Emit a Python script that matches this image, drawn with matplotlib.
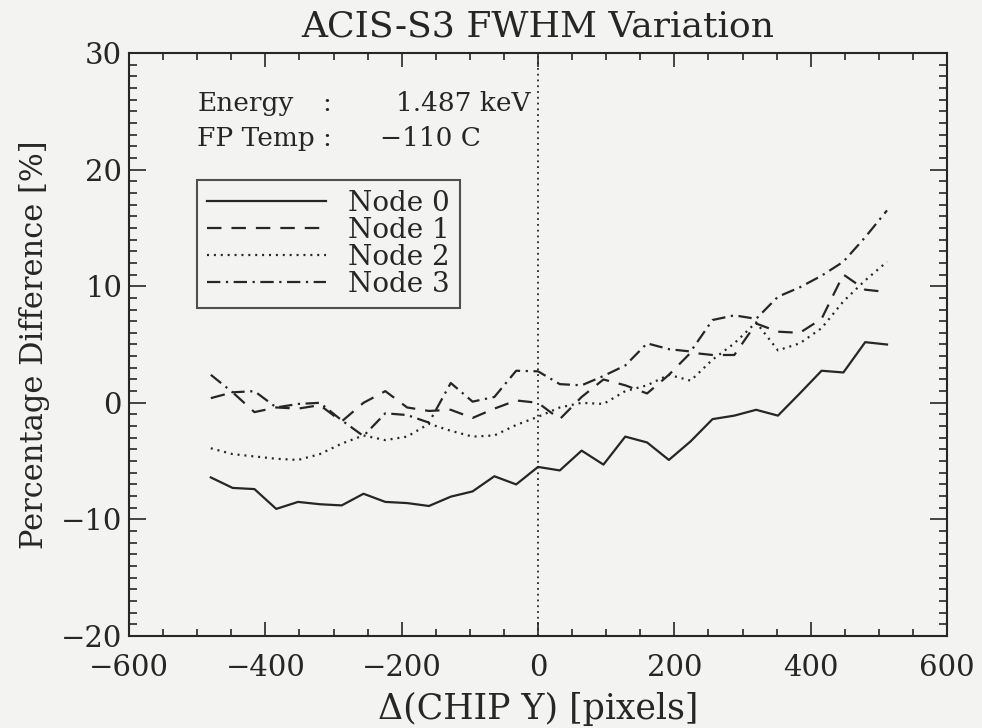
import matplotlib
matplotlib.use("Agg")
import matplotlib.pyplot as plt
from matplotlib.ticker import MultipleLocator

# ---- data ----
chip_y = [-480, -448, -416, -384, -352, -320, -288, -256, -224, -192, -160, -128,
          -96, -64, -32, 0, 32, 64, 96, 128, 160, 192, 224, 256, 288, 320, 352,
          384, 416, 448, 480, 512]
node0 = [-6.4, -7.3, -7.4, -9.1, -8.5, -8.7, -8.8, -7.8, -8.5, -8.6, -8.85, -8.05,
         -7.6, -6.3, -7.0, -5.5, -5.8, -4.1, -5.3, -2.9, -3.4, -4.9, -3.3, -1.4,
         -1.1, -0.6, -1.1, 0.8, 2.75, 2.6, 5.2, 5.0]
node1 = [0.4, 0.9, -0.8, -0.4, -0.5, -0.2, -1.6, 0.0, 1.0, -0.4, -0.7, -0.6,
         -1.3, -0.5, 0.2, 0.0, -1.4, 0.5, 2.0, 1.5, 0.8, 2.4, 4.3, 4.1,
         4.1, 6.8, 6.1, 6.0, 7.2, 11.0, 9.7, 9.5]
node2 = [-3.9, -4.4, -4.6, -4.8, -4.9, -4.4, -3.5, -2.8, -3.2, -2.9, -1.8, -2.4,
         -2.9, -2.8, -1.9, -1.2, -0.4, 0.0, -0.1, 1.0, 1.5, 2.4, 1.9, 3.7,
         5.1, 6.9, 4.5, 5.1, 6.4, 8.7, 10.5, 12.1]
node3 = [2.4, 0.9, 1.0, -0.4, -0.1, 0.0, -1.5, -2.85, -0.9, -1.05, -1.7, 1.7,
         0.1, 0.5, 2.75, 2.7, 1.6, 1.5, 2.3, 3.2, 5.1, 4.6, 4.4, 7.1,
         7.5, 7.2, 9.1, 9.9, 10.9, 12.1, 14.2, 16.5]
labels = ["Node 0", "Node 1", "Node 2", "Node 3"]

title = "ACIS-S3 FWHM Variation"
xlabel = "Δ(CHIP Y) [pixels]"
ylabel = "Percentage Difference [%]"

# ---- style ----
plt.rcParams['font.family'] = ['DejaVu Serif']
ink = '#262626'
bg = '#f3f3f1'

fig = plt.figure(figsize=(9.82, 7.28), dpi=100, facecolor=bg)
ax = fig.add_axes([129/982, 1-636/728, (947-129)/982, (636-53)/728])
ax.set_facecolor(bg)

lw = 1.6
ax.plot(chip_y, node0, color=ink, lw=lw, ls='-', label=labels[0])
ax.plot(chip_y, node1, color=ink, lw=lw, ls=(0, (6.5, 4.5)), label=labels[1])
ax.plot(chip_y, node2, color=ink, lw=lw, ls=(0, (0.9, 2.2)), label=labels[2])
ax.plot(chip_y, node3, color=ink, lw=lw, ls=(0, (6.0, 2.5, 1.0, 2.5)), label=labels[3])

ax.axvline(0, color=ink, lw=1.3, ls=(0, (1.0, 2.2)))

ax.set_xlim(-600, 600)
ax.set_ylim(-20, 30)
ax.xaxis.set_major_locator(MultipleLocator(200))
ax.xaxis.set_minor_locator(MultipleLocator(50))
ax.yaxis.set_major_locator(MultipleLocator(10))
ax.yaxis.set_minor_locator(MultipleLocator(1))
ax.tick_params(which='both', direction='in', top=True, right=True, color=ink,
               width=1.2, labelsize=21, labelcolor=ink)
ax.tick_params(axis='x', which='major', length=10, pad=13)
ax.tick_params(axis='y', which='major', length=12, pad=5)
ax.tick_params(axis='x', which='minor', length=5)
ax.tick_params(axis='y', which='minor', length=6)
for s in ax.spines.values():
    s.set_linewidth(1.5)
    s.set_color(ink)

ax.set_title(title, fontsize=26, color=ink, pad=12)
ax.set_xlabel(xlabel, fontsize=25, color=ink, labelpad=7)
ax.set_ylabel(ylabel, fontsize=22, color=ink, labelpad=8)

fs = 19
ax.text(-500, 25.7, "Energy", fontsize=fs, color=ink, va='center')
ax.text(-317, 25.7, ":", fontsize=fs, color=ink, va='center')
ax.text(-208, 25.7, "1.487 keV", fontsize=fs, color=ink, va='center')
ax.text(-500, 22.7, "FP Temp", fontsize=fs, color=ink, va='center')
ax.text(-317, 22.7, ":", fontsize=fs, color=ink, va='center')
ax.text(-232, 22.7, "\u2212110 C", fontsize=fs, color=ink, va='center')

leg = ax.legend(loc='upper left', bbox_to_anchor=(0.0831, 0.782), fontsize=20,
                handlelength=4.3, handletextpad=0.8, labelspacing=0.0,
                borderpad=0.35, borderaxespad=0, frameon=True, fancybox=False)
leg.get_frame().set_edgecolor(ink)
leg.get_frame().set_linewidth(1.5)
leg.get_frame().set_facecolor(bg)
for t in leg.get_texts():
    t.set_color(ink)

fig.savefig("out.png", dpi=100, facecolor=bg)
